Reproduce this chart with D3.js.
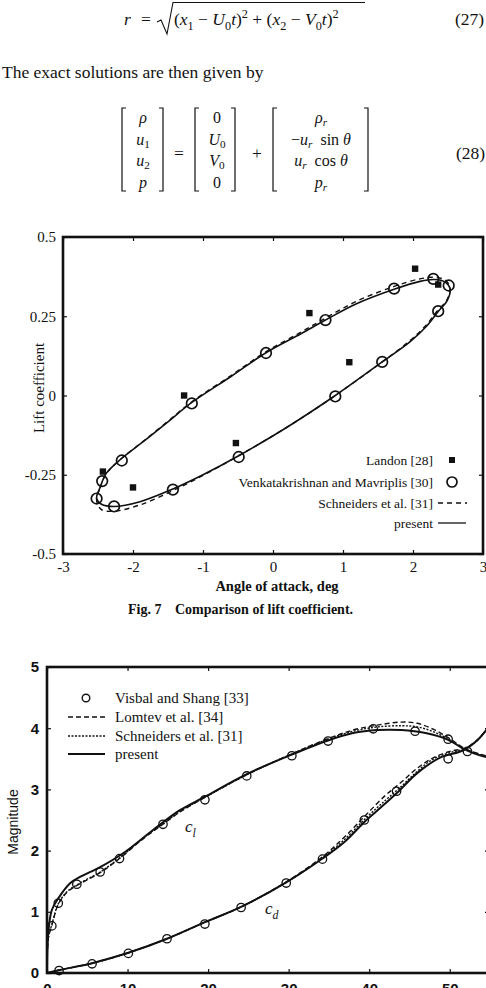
<!DOCTYPE html>
<html><head><meta charset="utf-8">
<script src="https://cdn.jsdelivr.net/npm/d3@7"></script>
<style>
html,body{margin:0;padding:0;background:#fff;}
svg{display:block;}
</style></head>
<body>
<script>
// ---------- Fig. 7 data (lift coefficient vs angle of attack) ----------
const fig7XTicks = [-3,-2,-1,0,1,2,3];
const fig7YTicks = [-0.5,-0.25,0,0.25,0.5];
const fig7YTickLabels = ["-0.5","-0.25","0","0.25","0.5"];
const landonAlpha = [-2.43,-2.0,-1.27,-0.53,0.52,1.09,2.03,2.36];
const landonCl    = [-0.24,-0.29,0.0,-0.15,0.26,0.105,0.40,0.35];
const venkatAlpha = [-2.52,-2.44,-2.16,-1.16,-0.10,0.75,1.73,2.29,2.51,2.36,1.56,0.89,-0.49,-1.43,-2.27];
const venkatCl    = [-0.325,-0.27,-0.205,-0.025,0.134,0.238,0.337,0.368,0.347,0.266,0.106,-0.003,-0.194,-0.297,-0.35];
const presentAlpha = [-2.52,-2.47,-2.38,-2.16,-1.85,-1.5,-1.16,-0.6,-0.1,0.4,0.75,1.2,1.73,2.1,2.3,2.46,2.53,2.49,2.36,2.2,1.96,1.56,0.89,0.2,-0.49,-1.0,-1.43,-1.9,-2.27,-2.45];
const presentCl    = [-0.325,-0.29,-0.245,-0.198,-0.145,-0.083,-0.022,0.06,0.135,0.195,0.238,0.29,0.335,0.36,0.366,0.358,0.335,0.3,0.265,0.22,0.17,0.106,0.0,-0.1,-0.19,-0.25,-0.295,-0.335,-0.35,-0.343];
const schneidersAlpha = [-2.52,-2.47,-2.38,-2.16,-1.85,-1.5,-1.16,-0.6,-0.1,0.4,0.75,1.2,1.73,2.1,2.3,2.46,2.53,2.48,2.34,2.18,1.94,1.56,0.89,0.2,-0.49,-1.0,-1.43,-1.9,-2.27,-2.45];
const schneidersCl    = [-0.33,-0.292,-0.246,-0.198,-0.144,-0.081,-0.02,0.063,0.138,0.2,0.244,0.298,0.344,0.368,0.373,0.364,0.34,0.3,0.265,0.22,0.17,0.106,0.0,-0.1,-0.19,-0.252,-0.3,-0.345,-0.365,-0.36];

// ---------- Fig. 8 data (magnitude vs time) ----------
const fig8XTicks = [0,10,20,30,40,50];
const fig8YTicks = [0,1,2,3,4,5];
const visbalClT = [0.6,1.4,3.7,6.6,9.0,14.4,19.6,24.8,30.4,34.9,40.5,45.7,49.8,52.2];
const visbalCl  = [0.77,1.14,1.45,1.65,1.87,2.43,2.83,3.22,3.55,3.79,3.99,3.95,3.82,3.62];
const visbalCdT = [1.5,5.6,10.1,14.9,19.6,24.1,29.7,34.2,39.4,43.4,49.8];
const visbalCd  = [0.04,0.15,0.32,0.56,0.8,1.07,1.47,1.86,2.5,2.97,3.5];
const presClT = [0,0.15,0.6,1.4,2.9,4.1,6.6,9.5,13.2,16.5,19.6,24.8,30.4,34.9,38,41,44,47,49.8,51.5,53,55];
const presCl  = [0,0.65,1.03,1.22,1.47,1.57,1.73,1.96,2.34,2.66,2.88,3.25,3.57,3.8,3.92,3.97,3.97,3.92,3.81,3.68,3.59,3.51];
const lomtevClT = [0,0.15,0.6,1.4,2.5,3.7,6.6,9,12,14.4,16.5,19.6,24.8,30.4,34.9,38,41,44,46,48,50,52,55];
const lomtevCl  = [0,0.55,0.78,1.12,1.32,1.43,1.64,1.87,2.2,2.43,2.63,2.87,3.24,3.58,3.83,3.97,4.05,4.1,4.08,3.98,3.83,3.66,3.53];
const schnClT = [0,0.15,0.6,1.4,2.5,3.7,6.6,9,12,14.4,16.5,19.6,24.8,30.4,34.9,38,41,44,46,48,50,52,55];
const schnCl  = [0,0.57,0.79,1.13,1.33,1.44,1.65,1.88,2.21,2.44,2.64,2.87,3.24,3.58,3.82,3.95,4.02,4.04,4.02,3.94,3.81,3.65,3.52];
const presCdT = [0,1.6,5.6,10.1,14.9,19.6,24.1,29.7,34.2,37,39.5,41.4,43.5,46,48.8,51.7,53.4,55];
const presCd  = [0,0.05,0.16,0.33,0.56,0.83,1.08,1.48,1.87,2.15,2.48,2.7,2.95,3.27,3.52,3.64,3.8,4.05];
const lomtevCdT = [0,1.6,5.6,10.1,14.9,19.6,24.1,29.7,34.2,37,39.5,42,44,46,48,50,52,53.5,55];
const lomtevCd  = [0,0.05,0.16,0.33,0.56,0.83,1.08,1.49,1.9,2.23,2.57,2.9,3.12,3.35,3.52,3.62,3.68,3.82,4.05];
const schnCdT = [0,1.6,5.6,10.1,14.9,19.6,24.1,29.7,34.2,37,39.5,42,44,46,48,50,52,53.5,55];
const schnCd  = [0,0.05,0.16,0.33,0.56,0.83,1.08,1.48,1.88,2.19,2.52,2.82,3.05,3.3,3.5,3.6,3.67,3.81,4.05];

const SERIF = "'Liberation Serif','Times New Roman',serif";
const SANS = "'Liberation Sans',Arial,sans-serif";
const INK = "#111";
const EQ = 17.5;
const MAT = 16;

const svg = d3.select("body").append("svg").attr("width",486).attr("height",988);
svg.append("rect").attr("width",486).attr("height",988).attr("fill","#fff");

// rich text helper: segs = [[text, opts]] opts: i italic, sub, sup
function rich(x, y, segs, size, anchor, subShift){
  const sb = subShift==null ? 0.3 : subShift;
  const t = svg.append("text").attr("x",x).attr("y",y).attr("font-family",SERIF)
    .attr("font-size",size).attr("fill",INK).attr("text-anchor",anchor||"start");
  let cur = 0;
  segs.forEach(s=>{
    const o = s[1]||{};
    const target = o.sub ? size*sb : (o.sup ? -size*0.42 : 0);
    const ts = t.append("tspan").text(s[0]).attr("dy", target-cur);
    cur = target;
    if(o.i) ts.attr("font-style","italic");
    if(o.sub||o.sup) ts.attr("font-size", size*0.7);
  });
  return t;
}

// ---------- Equation (27) ----------
rich(124,25,[["r",{i:1}]],EQ);
rich(141,25,[["="]],EQ);
svg.append("path").attr("d","M157,22 L161,20 L167,34 L173,2.5 L365,2.5")
  .attr("fill","none").attr("stroke",INK).attr("stroke-width",1.1);
rich(174,25,[["("],["x",{i:1}],["1",{sub:1}],[" − "],["U",{i:1}],["0",{sub:1}],["t",{i:1}],[")"],["2",{sup:1}],[" + ("],["x",{i:1}],["2",{sub:1}],[" − "],["V",{i:1}],["0",{sub:1}],["t",{i:1}],[")"],["2",{sup:1}]],EQ);
rich(455,25,[["(27)"]],EQ);

rich(2,78,[["The exact solutions are then given by"]],EQ);

// ---------- Equation (28) ----------
const rowsY = [123,144.5,166,187.5];
function bracket(x, dir){
  svg.append("path").attr("d",`M${x+4*dir},108 L${x},108 L${x},191 L${x+4*dir},191`)
    .attr("fill","none").attr("stroke",INK).attr("stroke-width",1.2);
}
bracket(122,1); bracket(163,-1); bracket(195,1); bracket(235,-1); bracket(273,1); bracket(368,-1);
const col1 = [[["ρ",{i:1}]],[["u",{i:1}],["1",{sub:1}]],[["u",{i:1}],["2",{sub:1}]],[["p",{i:1}]]];
const col2 = [[["0"]],[["U",{i:1}],["0",{sub:1}]],[["V",{i:1}],["0",{sub:1}]],[["0"]]];
const col3 = [[["ρ",{i:1}],["r",{i:1,sub:1}]],[["−"],["u",{i:1}],["r",{i:1,sub:1}],["  sin "],["θ",{i:1}]],[["u",{i:1}],["r",{i:1,sub:1}],["  cos "],["θ",{i:1}]],[["p",{i:1}],["r",{i:1,sub:1}]]];
col1.forEach((s,i)=>rich(143,rowsY[i],s,MAT,"middle",0.2));
col2.forEach((s,i)=>rich(217,rowsY[i],s,MAT,"middle",0.2));
col3.forEach((s,i)=>rich(321,rowsY[i],s,MAT,"middle",0.2).attr("xml:space","preserve"));
rich(179,159,[["="]],EQ,"middle");
rich(257,159,[["+"]],EQ,"middle");
rich(456,159,[["(28)"]],EQ);

// ---------- Fig. 7 ----------
const x7 = d3.scaleLinear().domain([-3,3]).range([63,483]);
const y7 = d3.scaleLinear().domain([-0.5,0.5]).range([554,237]);
const g7 = svg.append("g");
function styleAxis(g, font, size){
  g.select(".domain").remove();
  g.selectAll("line").attr("stroke",INK).attr("stroke-width",1.2);
  g.selectAll("text").attr("font-family",font).attr("font-size",size).attr("fill",INK);
}
styleAxis(g7.append("g").attr("transform","translate(0,554)")
  .call(d3.axisBottom(x7).tickValues(fig7XTicks).tickSize(-4).tickPadding(7).tickFormat(d=>String(d).replace("−","-"))), SERIF, 15);
styleAxis(g7.append("g").attr("transform","translate(0,237)")
  .call(d3.axisTop(x7).tickValues(fig7XTicks).tickSize(-4).tickFormat("")), SERIF, 15);
styleAxis(g7.append("g").attr("transform","translate(63,0)")
  .call(d3.axisLeft(y7).tickValues(fig7YTicks).tickSize(-4).tickPadding(7).tickFormat((d,i)=>fig7YTickLabels[i])), SERIF, 15);
styleAxis(g7.append("g").attr("transform","translate(483,0)")
  .call(d3.axisRight(y7).tickValues(fig7YTicks).tickSize(-4).tickFormat("")), SERIF, 15);
g7.append("rect").attr("x",63).attr("y",237).attr("width",420).attr("height",317)
  .attr("fill","none").attr("stroke",INK).attr("stroke-width",2.6);

const loop = d3.line().x(d=>x7(d[0])).y(d=>y7(d[1])).curve(d3.curveCatmullRomClosed);
g7.append("path").attr("d",loop(d3.zip(schneidersAlpha,schneidersCl)))
  .attr("fill","none").attr("stroke",INK).attr("stroke-width",1.4).attr("stroke-dasharray","5,4");
g7.append("path").attr("d",loop(d3.zip(presentAlpha,presentCl)))
  .attr("fill","none").attr("stroke",INK).attr("stroke-width",1.6);
g7.selectAll(".sq").data(d3.zip(landonAlpha,landonCl)).enter().append("rect")
  .attr("x",d=>x7(d[0])-3.2).attr("y",d=>y7(d[1])-3.2).attr("width",6.4).attr("height",6.4).attr("fill",INK);
g7.selectAll(".ci").data(d3.zip(venkatAlpha,venkatCl)).enter().append("circle")
  .attr("cx",d=>x7(d[0])).attr("cy",d=>y7(d[1])).attr("r",5.3)
  .attr("fill","none").attr("stroke",INK).attr("stroke-width",1.7);

// legend fig 7
const leg7 = [["Landon [28]","sq"],["Venkatakrishnan and Mavriplis [30]","ci"],["Schneiders et al. [31]","dash"],["present","line"]];
const leg7Y = [460,482,503,523];
leg7.forEach((d,i)=>{
  const yy = leg7Y[i];
  svg.append("text").attr("x",433).attr("y",yy+4.5).attr("text-anchor","end")
    .attr("font-family",SERIF).attr("font-size",13.5).attr("fill",INK).text(d[0]);
  if(d[1]==="sq") svg.append("rect").attr("x",449).attr("y",yy-3).attr("width",6).attr("height",6).attr("fill",INK);
  if(d[1]==="ci") svg.append("circle").attr("cx",452).attr("cy",yy).attr("r",5).attr("fill","none").attr("stroke",INK).attr("stroke-width",1.7);
  if(d[1]==="dash") svg.append("line").attr("x1",438).attr("x2",467).attr("y1",yy).attr("y2",yy).attr("stroke",INK).attr("stroke-width",1.3).attr("stroke-dasharray","5,4");
  if(d[1]==="line") svg.append("line").attr("x1",438).attr("x2",466).attr("y1",yy).attr("y2",yy).attr("stroke",INK).attr("stroke-width",1.3);
});

svg.append("text").attr("transform","translate(44,388) rotate(-90)").attr("text-anchor","middle")
  .attr("font-family",SERIF).attr("font-size",15).attr("fill",INK).text("Lift coefficient");
svg.append("text").attr("x",277).attr("y",591).attr("text-anchor","middle")
  .attr("font-family",SERIF).attr("font-weight","bold").attr("font-size",14.5).attr("fill",INK).text("Angle of attack, deg");
svg.append("text").attr("x",128).attr("y",614)
  .attr("font-family",SERIF).attr("font-weight","bold").attr("font-size",14).attr("fill",INK).text("Fig. 7");
svg.append("text").attr("x",175).attr("y",614)
  .attr("font-family",SERIF).attr("font-weight","bold").attr("font-size",14).attr("fill",INK).text("Comparison of lift coefficient.");

// ---------- Fig. 8 (partial, cropped by the page) ----------
const x8 = d3.scaleLinear().domain([0,55]).range([47,490]);
const y8 = d3.scaleLinear().domain([0,5]).range([973,667]);
const g8 = svg.append("g");
styleAxis(g8.append("g").attr("transform","translate(0,973)")
  .call(d3.axisBottom(x8).tickValues(fig8XTicks).tickSize(-4).tickPadding(10).tickFormat(d3.format("d"))), SANS, 15);
styleAxis(g8.append("g").attr("transform","translate(0,667)")
  .call(d3.axisTop(x8).tickValues(fig8XTicks).tickSize(-4).tickFormat("")), SANS, 15);
styleAxis(g8.append("g").attr("transform","translate(47,0)")
  .call(d3.axisLeft(y8).tickValues(fig8YTicks).tickSize(-4).tickPadding(8).tickFormat(d3.format("d"))), SANS, 15);
styleAxis(g8.append("g").attr("transform","translate(490,0)")
  .call(d3.axisRight(y8).tickValues(fig8YTicks).tickSize(-5).tickFormat("")), SANS, 15);
g8.selectAll("text").attr("font-weight","bold");
g8.append("rect").attr("x",47).attr("y",667).attr("width",443).attr("height",306)
  .attr("fill","none").attr("stroke",INK).attr("stroke-width",2.6);

const ln8 = d3.line().x(d=>x8(d[0])).y(d=>y8(d[1])).curve(d3.curveCatmullRom);
function curve8(t,v,dash,w){
  g8.append("path").attr("d",ln8(d3.zip(t,v))).attr("fill","none").attr("stroke",INK)
    .attr("stroke-width",w).attr("stroke-dasharray",dash);
}
curve8(lomtevClT,lomtevCl,"5,3",1.4);
curve8(schnClT,schnCl,"2,1.5",1.4);
curve8(lomtevCdT,lomtevCd,"5,3",1.4);
curve8(schnCdT,schnCd,"2,1.5",1.4);
curve8(presClT,presCl,null,2);
curve8(presCdT,presCd,null,2);
g8.selectAll(".vc").data(d3.zip(visbalClT,visbalCl).concat(d3.zip(visbalCdT,visbalCd))).enter().append("circle")
  .attr("cx",d=>x8(d[0])).attr("cy",d=>y8(d[1])).attr("r",4.2)
  .attr("fill","none").attr("stroke",INK).attr("stroke-width",1.3);

// legend fig 8
const leg8 = [["Visbal and Shang [33]","ci"],["Lomtev et al. [34]","5,3"],["Schneiders et al. [31]","2,1.5"],["present","solid"]];
const leg8Y = [698,717,736,754];
leg8.forEach((d,i)=>{
  const yy = leg8Y[i];
  svg.append("text").attr("x",115).attr("y",yy+5).attr("font-family",SERIF).attr("font-size",15).attr("fill",INK).text(d[0]);
  if(d[1]==="ci") svg.append("circle").attr("cx",86).attr("cy",yy).attr("r",3.8).attr("fill","none").attr("stroke",INK).attr("stroke-width",1.4);
  else svg.append("line").attr("x1",68).attr("x2",105).attr("y1",yy).attr("y2",yy).attr("stroke",INK)
    .attr("stroke-width",d[1]==="solid"?1.8:1.4).attr("stroke-dasharray",d[1]==="solid"?null:d[1]);
});
rich(185,832,[["c",{i:1}],["l",{i:1,sub:1}]],17);
rich(265,914,[["c",{i:1}],["d",{i:1,sub:1}]],17);
svg.append("text").attr("transform","translate(18,822) rotate(-90)").attr("text-anchor","middle")
  .attr("font-family",SANS).attr("font-size",14).attr("fill",INK).text("Magnitude");
</script>
</body></html>
